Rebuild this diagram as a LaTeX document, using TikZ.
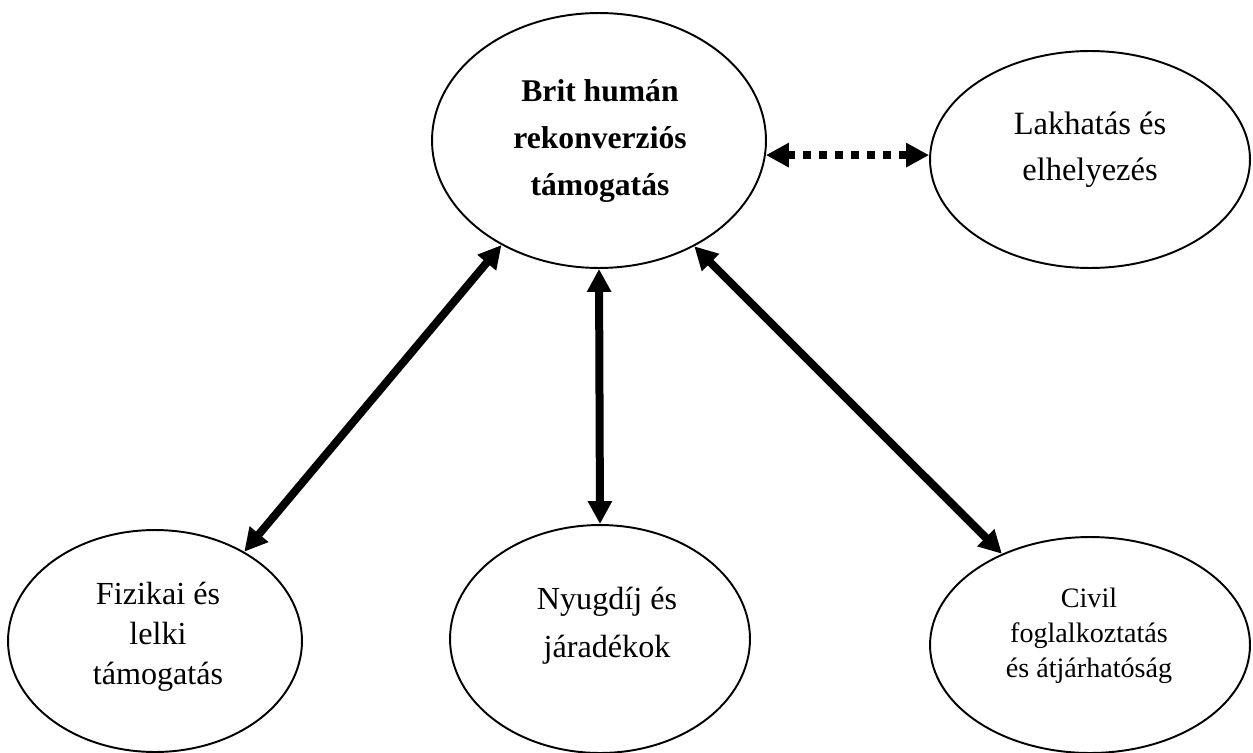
\documentclass[tikz,border=0pt]{standalone}
\usepackage{fontspec}
\setmainfont{Liberation Serif}
\usetikzlibrary{shapes.geometric, arrows.meta}

\begin{document}
\begin{tikzpicture}[x = 0.02cm, y = -0.02cm,
	oval/.style = {draw, ellipse, line width = 1.1pt, inner sep = 0pt},
	txt/.style = {align = center, inner sep = 0pt},
	link/.style = {line width = 0.16cm, {Triangle[length = 0.46cm, width = 0.46cm]}-{Triangle[length = 0.46cm, width = 0.46cm]}}]
	\useasboundingbox (0,0) rectangle (1253,753);
	\node[oval, minimum width = 6.68cm, minimum height = 5.1cm](BRIT) at (599,140.5){};
	\node[oval, minimum width = 6.4cm, minimum height = 4.34cm](LAK) at (1090,159.5){};
	\node[oval, minimum width = 5.88cm, minimum height = 4.44cm](FIZ) at (155,641){};
	\node[oval, minimum width = 6cm, minimum height = 4.56cm](NYU) at (600,639){};
	\node[oval, minimum width = 6.4cm, minimum height = 4.32cm](CIV) at (1090,645){};
	
	\node[txt, font = \fontsize{18}{26.5}\selectfont\bfseries](BRITT) at (600,141){Brit humán\\rekonverziós\\támogatás};
	\node[txt, font = \fontsize{18.5}{26.2}\selectfont](LAKT) at (1090,150){Lakhatás és\\elhelyezés};
	\node[txt, font = \fontsize{18.3}{22.8}\selectfont](FIZT) at (158,637){Fizikai és\\lelki\\támogatás};
	\node[txt, font = \fontsize{18.3}{27.4}\selectfont](NYUT) at (607,626){Nyugdíj és\\járadékok};
	\node[txt, font = \fontsize{16}{19.9}\selectfont](CIVT) at (1089,636){Civil\\foglalkoztatás\\és átjárhatóság};
	
	\draw[link] (BRIT.227.5) -- (FIZ.45);
	\draw[link] (BRIT.south) -- (NYU.north);
	\draw[link] (BRIT.312) -- (CIV.134.4);
	\draw[link, dash pattern = on 0.16cm off 0.16cm] (BRIT.-5) -- (BRIT.-5 -| LAK.west);
\end{tikzpicture}
\end{document}
